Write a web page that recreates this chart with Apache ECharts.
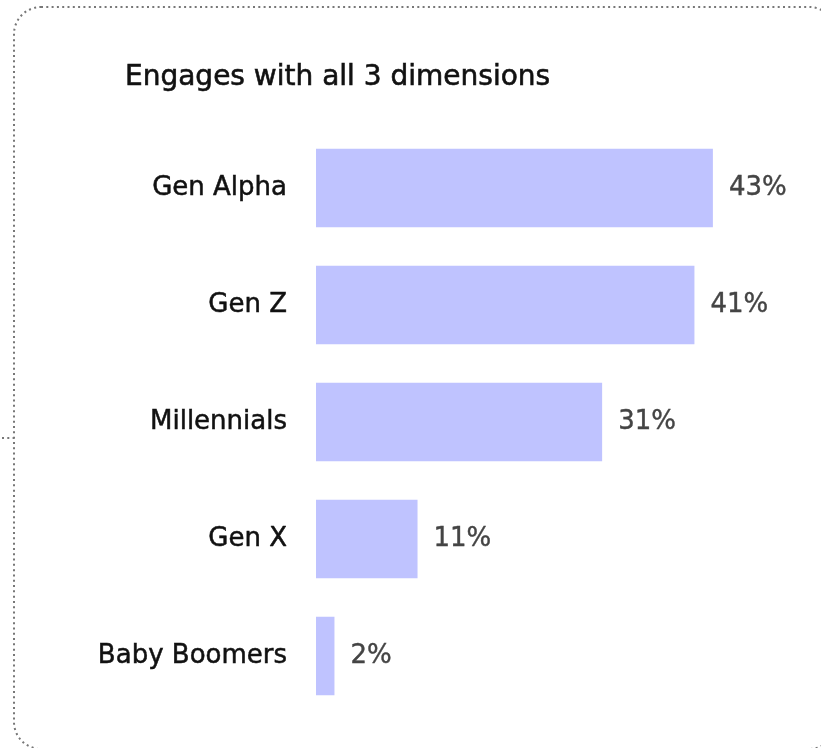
<!DOCTYPE html>
<html>
<head>
<meta charset="utf-8">
<style>
  html, body { margin: 0; padding: 0; background: #ffffff; }
  #chart { width: 821px; height: 748px; }
</style>
<script src="https://cdn.jsdelivr.net/npm/echarts@6/dist/echarts.min.js"></script>
</head>
<body>
<div id="chart"></div>
<script>
// Share of each generation engaging with all three dimensions
const generations = ['Gen Alpha', 'Gen Z', 'Millennials', 'Gen X', 'Baby Boomers'];
const engagedShare = [43, 41, 31, 11, 2];
const chartTitle = 'Engages with all 3 dimensions';

const FONT = '"DejaVu Sans", "Noto Sans", sans-serif';

const chart = echarts.init(document.getElementById('chart'), null, { renderer: 'canvas' });

chart.setOption({
  backgroundColor: '#ffffff',
  animation: false,
  title: {
    text: chartTitle,
    left: 120,
    top: 59,
    textStyle: {
      fontFamily: FONT,
      fontSize: 28,
      fontWeight: 'normal',
      color: '#111111',
      textBorderColor: '#111111',
      textBorderWidth: 0.6
    }
  },
  grid: {
    left: 316,
    top: 129.5,
    width: 461.5,
    height: 585,
    containLabel: false
  },
  xAxis: {
    type: 'value',
    min: 0,
    max: 50,
    show: false
  },
  yAxis: {
    type: 'category',
    data: generations,
    inverse: true,
    axisLine: { show: false },
    axisTick: { show: false },
    splitLine: { show: false },
    axisLabel: {
      margin: 29,
      fontFamily: FONT,
      fontSize: 26,
      color: '#111111',
      textBorderColor: '#111111',
      textBorderWidth: 0.5
    }
  },
  series: [{
    type: 'bar',
    data: engagedShare,
    barCategoryGap: '33%',
    itemStyle: { color: '#bfc3ff' },
    label: {
      show: true,
      position: 'right',
      distance: 16,
      formatter: '{c}%',
      fontFamily: FONT,
      fontSize: 26,
      color: '#444444',
      textBorderColor: '#444444',
      textBorderWidth: 0.4
    }
  }],
  graphic: [
    {
      // dotted rounded frame, running past the right edge
      type: 'rect',
      silent: true,
      shape: { x: 14, y: 7, width: 822, height: 742, r: 27 },
      style: {
        fill: 'none',
        stroke: '#777777',
        lineWidth: 2,
        lineDash: [2, 3.3]
      }
    },
    {
      type: 'line',
      silent: true,
      shape: { x1: 2, y1: 438, x2: 14, y2: 438 },
      style: {
        stroke: '#777777',
        lineWidth: 2,
        lineDash: [2, 3.3]
      }
    }
  ]
});
</script>
</body>
</html>
